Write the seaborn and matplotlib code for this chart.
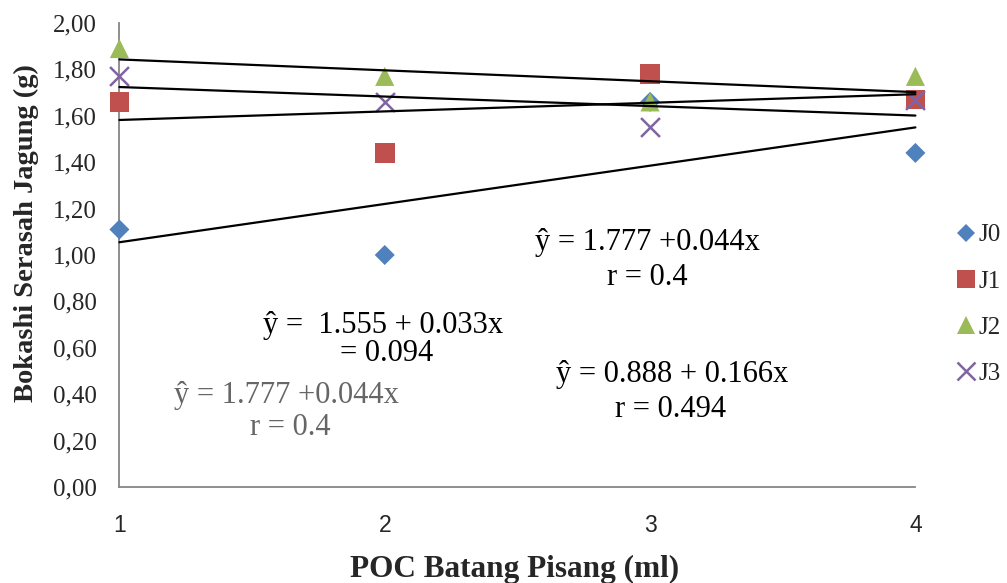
import numpy as np
import pandas as pd
import matplotlib
matplotlib.use("Agg")
import matplotlib.pyplot as plt
import seaborn as sns
from matplotlib.lines import Line2D

# ---------------- data ----------------
doses = [1, 2, 3, 4]
series_names = ["J0", "J1", "J2", "J3"]
j0_values = [1.11, 1.00, 1.66, 1.44]
j1_values = [1.66, 1.44, 1.78, 1.67]
j2_values = [1.89, 1.77, 1.66, 1.77]
j3_values = [1.77, 1.66, 1.55, 1.67]

y_ticks = [0.0, 0.2, 0.4, 0.6, 0.8, 1.0, 1.2, 1.4, 1.6, 1.8, 2.0]
y_tick_labels = ["0,00", "0,20", "0,40", "0,60", "0,80", "1,00",
                 "1,20", "1,40", "1,60", "1,80", "2,00"]
x_ticks = [1, 2, 3, 4]
x_tick_labels = ["1", "2", "3", "4"]

x_title = "POC Batang Pisang (ml)"
y_title = "Bokashi Serasah Jagung (g)"

eq_texts = ["ŷ = 1.777 +0.044x", "r = 0.4",
            "ŷ =  1.555 + 0.033x", "= 0.094",
            "ŷ = 1.777 +0.044x", "r = 0.4",
            "ŷ = 0.888 + 0.166x", "r = 0.494"]

# ---------------- styling ----------------
colors = {"J0": "#4F81BD", "J1": "#C0504D", "J2": "#9BBB59", "J3": "#8064A2"}
markers = {"J0": "D", "J1": "s", "J2": "^", "J3": "x"}
sizes = {"J0": 104, "J1": 200, "J2": 190, "J3": 185}
leg_ms = {"J0": 9.6, "J1": 13.2, "J2": 12.8, "J3": 12.4}

sns.set_style("white")
plt.rcParams["font.family"] = ["Liberation Serif", "DejaVu Serif"]

df = pd.DataFrame({
    "dose": doses * 4,
    "value": j0_values + j1_values + j2_values + j3_values,
    "series": [n for n in series_names for _ in doses],
})

W, H = 1007, 583
fig = plt.figure(figsize=(W / 100, H / 100), dpi=100)
x0, x1, ytop, ybot = 119.4, 915.4, 23, 487
ax = fig.add_axes([x0 / W, 1 - ybot / H, (x1 - x0) / W, (ybot - ytop) / H])

for name in series_names:
    sub = df[df["series"] == name]
    kws = dict(marker=markers[name], s=sizes[name], color=colors[name],
               ax=ax, legend=False, clip_on=False, zorder=3)
    if markers[name] == "x":
        kws["linewidth"] = 1.8
    else:
        kws["linewidth"] = 0
        kws["edgecolor"] = "none"
    sns.scatterplot(data=sub, x="dose", y="value", **kws)

for name in series_names:
    sub = df[df["series"] == name]
    sns.regplot(data=sub, x="dose", y="value", scatter=False, ci=None,
                truncate=True, ax=ax,
                line_kws=dict(color="black", lw=1.6, zorder=4, clip_on=False))

ax.set_xlim(1, 4)
ax.set_ylim(0, 2)
ax.set_xticks(x_ticks)
ax.set_xticklabels(x_tick_labels, family=["Liberation Sans", "DejaVu Sans"], fontsize=16.5)
ax.set_yticks(y_ticks)
ax.set_yticklabels(y_tick_labels, fontsize=18)

for s in ["top", "right"]:
    ax.spines[s].set_visible(False)
for s in ["left", "bottom"]:
    ax.spines[s].set_color("#868686")
    ax.spines[s].set_linewidth(1.3)
ax.tick_params(axis="both", direction="out", length=6, width=1.2, color="#868686")
ax.tick_params(axis="y", pad=10)
ax.tick_params(axis="x", pad=13.5)

ax.set_xlabel(x_title, fontsize=22.5, fontweight="bold", va="baseline")
ax.xaxis.set_label_coords((514.5 - x0) / (x1 - x0), (ybot - 577) / (ybot - ytop))
ax.set_ylabel(y_title, fontsize=20.5, fontweight="bold", va="center")
ax.yaxis.set_label_coords((26 - x0) / (x1 - x0), (ybot - 233) / (ybot - ytop))

# equation annotations (pixel-centred positions converted to data coords)
def px2data(px, py):
    return 1 + (px - x0) / (x1 - x0) * 3, (ybot - py) / (ybot - ytop) * 2

ann_pos = [(647, 250), (647, 285), (383, 333), (387, 361),
           (286, 403), (290, 435), (672, 382), (671, 417)]
ann_col = ["black", "black", "black", "black", "#666666", "#666666", "black", "black"]
for txt, (px, py), c in zip(eq_texts, ann_pos, ann_col):
    xd, yd = px2data(px, py)
    ax.text(xd, yd, txt, ha="center", va="baseline", fontsize=22, color=c, zorder=5)

handles = [Line2D([], [], marker=markers[n], color=colors[n], linestyle="none",
                  markersize=leg_ms[n], markeredgewidth=(1.8 if markers[n] == "x" else 0))
           for n in series_names]
fig.legend(handles, series_names, loc="center left",
           bbox_to_anchor=(956.0 / W, 1 - 304.5 / H), frameon=False,
           fontsize=18, handlelength=0.8, handletextpad=0.1,
           labelspacing=0.95, borderpad=0, borderaxespad=0)

fig.savefig("out.png", dpi=100)
